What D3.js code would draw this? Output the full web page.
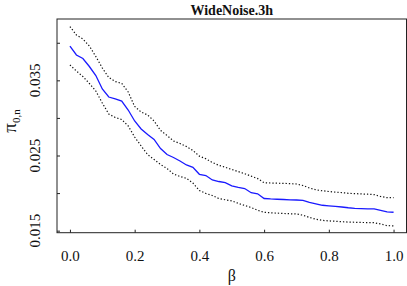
<!DOCTYPE html>
<html>
<head>
<meta charset="utf-8">
<script src="https://cdn.jsdelivr.net/npm/d3@7"></script>
<style>
  html, body { margin: 0; padding: 0; background: #fff; }
  svg { display: block; font-family: "Liberation Serif", "Times New Roman", serif; }
</style>
</head>
<body>
<svg id="chart" width="407" height="286"></svg>
<script>
// beta grid, step 0.02
const beta = d3.range(0, 51).map((i) => +(i * 0.02).toFixed(2));

const meanVals = [
  0.03956, 0.03837, 0.03790, 0.03684, 0.03564, 0.03385, 0.03278, 0.03252, 0.03225, 0.03105,
  0.02959, 0.02853, 0.02779, 0.02713, 0.02593, 0.02513, 0.02474, 0.02427, 0.02374, 0.02343,
  0.02250, 0.02234, 0.02174, 0.02154, 0.02138, 0.02095, 0.02077, 0.02061, 0.02005, 0.01991,
  0.01928, 0.01922, 0.01918, 0.01915, 0.01911, 0.01908, 0.01902, 0.01875, 0.01858, 0.01838,
  0.01830, 0.01822, 0.01815, 0.01805, 0.01797, 0.01794, 0.01791, 0.01789, 0.01769, 0.01749,
  0.01745,
];

const upperVals = [
  0.04216, 0.04103, 0.04050, 0.03956, 0.03817, 0.03664, 0.03538, 0.03484, 0.03460, 0.03345,
  0.03152, 0.03079, 0.03039, 0.02959, 0.02833, 0.02766, 0.02693, 0.02660, 0.02620, 0.02567,
  0.02491, 0.02456, 0.02407, 0.02370, 0.02343, 0.02314, 0.02286, 0.02258, 0.02225, 0.02193,
  0.02137, 0.02134, 0.02132, 0.02129, 0.02126, 0.02121, 0.02101, 0.02068, 0.02044, 0.02031,
  0.02021, 0.02013, 0.02007, 0.01997, 0.01993, 0.01989, 0.01985, 0.01980, 0.01955, 0.01939,
  0.01939,
];

const lowerVals = [
  0.03704, 0.03624, 0.03551, 0.03458, 0.03358, 0.03198, 0.03052, 0.03006, 0.02979, 0.02893,
  0.02746, 0.02627, 0.02513, 0.02447, 0.02380, 0.02327, 0.02254, 0.02221, 0.02197, 0.02134,
  0.02035, 0.01995, 0.01968, 0.01928, 0.01911, 0.01896, 0.01864, 0.01835, 0.01809, 0.01771,
  0.01745, 0.01738, 0.01733, 0.01729, 0.01725, 0.01722, 0.01706, 0.01676, 0.01652, 0.01637,
  0.01630, 0.01625, 0.01620, 0.01614, 0.01612, 0.01609, 0.01608, 0.01606, 0.01589, 0.01567,
  0.01563,
];

const xTicks = [0, 0.2, 0.4, 0.6, 0.8, 1.0];
const yTicks = [0.015, 0.020, 0.025, 0.030, 0.035, 0.040];
const yLabels = [0.015, 0.025, 0.035];

const box = { left: 57, right: 406.5, top: 19, bottom: 232.7 };

const svg = d3.select("#chart");

const x = d3.scaleLinear().domain([-0.04, 1.04]).range([box.left, box.right]);
const y = d3.scaleLinear().domain([0.01473, 0.04316]).range([box.bottom, box.top]);

// x axis (inward ticks)
const xAxis = svg.append("g")
  .attr("transform", `translate(0,${box.bottom})`)
  .call(d3.axisBottom(x).tickValues(xTicks).tickSizeInner(-3).tickSizeOuter(0)
    .tickPadding(18).tickFormat(d3.format(".1f")));
xAxis.select(".domain").remove();
xAxis.selectAll("line").attr("stroke", "#222");
xAxis.selectAll("text")
  .attr("font-family", "Liberation Serif, serif")
  .attr("font-size", 15)
  .attr("fill", "#111");

// y axis (inward ticks, some labels dropped)
const yAxis = svg.append("g")
  .attr("transform", `translate(${box.left},0)`)
  .call(d3.axisLeft(y).tickValues(yTicks).tickSizeInner(-3).tickSizeOuter(0).tickFormat(""));
yAxis.select(".domain").remove();
yAxis.selectAll("line").attr("stroke", "#222");

svg.append("g")
  .selectAll("text")
  .data(yLabels)
  .enter()
  .append("text")
  .attr("transform", (d) => `translate(40,${y(d)}) rotate(-90)`)
  .attr("text-anchor", "middle")
  .attr("font-size", 15)
  .attr("fill", "#111")
  .text((d) => d3.format(".3f")(d));

// frame
svg.append("rect")
  .attr("x", box.left)
  .attr("y", box.top)
  .attr("width", box.right - box.left)
  .attr("height", box.bottom - box.top)
  .attr("fill", "none")
  .attr("stroke", "#222")
  .attr("stroke-width", 1);

const line = d3.line()
  .x((d, i) => x(beta[i]))
  .y((d) => y(d));

svg.append("path")
  .datum(upperVals)
  .attr("fill", "none")
  .attr("stroke", "#111")
  .attr("stroke-width", 1.2)
  .attr("stroke-dasharray", "1.3,2")
  .attr("d", line);

svg.append("path")
  .datum(lowerVals)
  .attr("fill", "none")
  .attr("stroke", "#111")
  .attr("stroke-width", 1.2)
  .attr("stroke-dasharray", "1.3,2")
  .attr("d", line);

svg.append("path")
  .datum(meanVals)
  .attr("fill", "none")
  .attr("stroke", "#1a1aff")
  .attr("stroke-width", 1.3)
  .attr("d", line);

// title
svg.append("text")
  .attr("x", (box.left + box.right) / 2)
  .attr("y", 15)
  .attr("text-anchor", "middle")
  .attr("font-size", 14)
  .attr("font-weight", "bold")
  .attr("fill", "#111")
  .text("WideNoise.3h");

// x label
svg.append("text")
  .attr("x", (box.left + box.right) / 2)
  .attr("y", 281)
  .attr("text-anchor", "middle")
  .attr("font-size", 16)
  .attr("fill", "#111")
  .text("β");

// y label
const yl = svg.append("text")
  .attr("transform", `translate(16,121) rotate(-90)`)
  .attr("text-anchor", "middle")
  .attr("font-size", 19)
  .attr("fill", "#111");
yl.append("tspan").text("π");
yl.append("tspan").attr("font-size", 11).attr("dy", 4).text("0,n");
</script>
</body>
</html>
